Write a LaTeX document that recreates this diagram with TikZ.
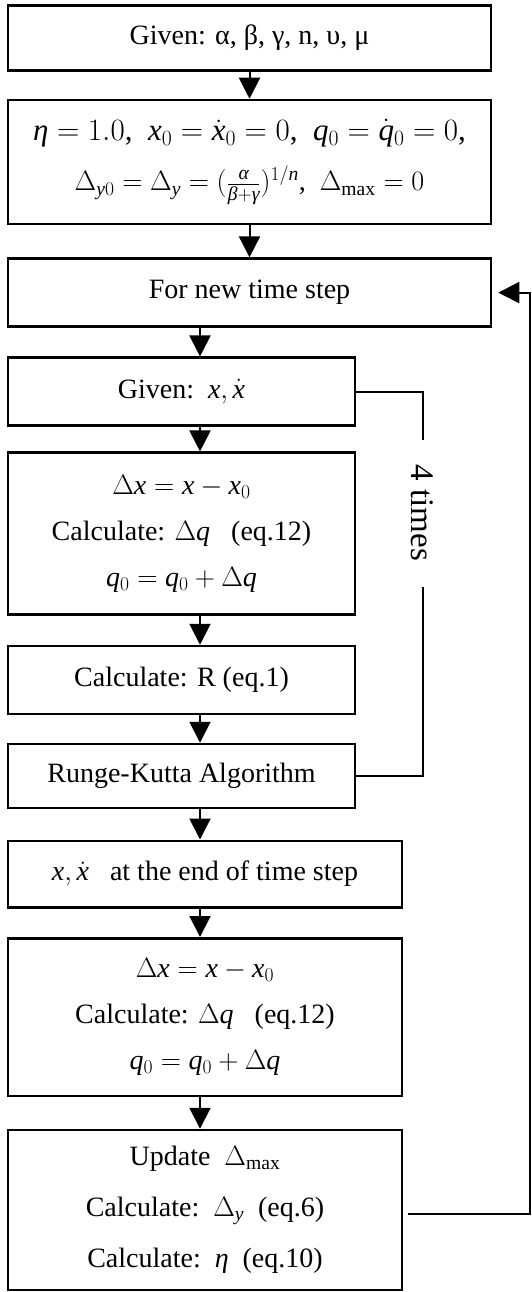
\RequirePackage{fix-cm}
\documentclass[tikz,border=0pt]{standalone}
\usepackage{fontspec}
\setmainfont{Liberation Serif}
\newfontfamily\tmsfam{Liberation Serif}[NFSSFamily=tms]
\DeclareSymbolFont{tletters}{TU}{tms}{m}{it}
\DeclareSymbolFont{troman}{TU}{tms}{m}{n}
\DeclareMathAlphabet{\mathtr}{TU}{tms}{m}{n}
\Umathcode`x="7 \symtletters `x
\Umathcode`q="7 \symtletters `q
\Umathcode`n="7 \symtletters `n
\Umathcode`y="7 \symtletters `y
\Umathcode`0="0 \symtroman `0
\Umathcode`1="0 \symtroman `1
\Umathchardef\eta="0 \symtletters "03B7
\Umathchardef\alpha="0 \symtletters "03B1
\Umathchardef\beta="0 \symtletters "03B2
\Umathchardef\gamma="0 \symtletters "03B3
\Umathchardef\Delta="0 \symtroman "0394
\usetikzlibrary{arrows.meta,calc}
\tikzset{
  box/.style={draw, line width=2.5pt, inner sep=0pt, align=center, font=\fontsize{28}{46}\selectfont},
  arr/.style={line width=2pt, -{Triangle[length=21pt,width=21pt]}},
  link/.style={line width=2pt},
}
\begin{document}
\begin{tikzpicture}[x=1pt,y=-1pt]
\useasboundingbox (0,0) rectangle (532,1292);
\node[box, minimum width=483pt, minimum height=65pt] (b1) at (249.5,38) {Given: α, β, γ, n, υ, μ};
\node[box, minimum width=483pt, minimum height=124pt, font=\fontsize{31}{52}\selectfont] (b2) at (249.5,162)
  {$\eta = 1.0$,\ \ $x_0=\dot x_0=0$,\ \ $q_0=\dot q_0=0$,\\[-2pt]
   {\fontsize{28}{28}\selectfont$\Delta_{y0}=\Delta_y=(\frac{\alpha}{\beta+\gamma})^{1/n}$,\ \ $\Delta_{\mathtr{max}}=0$}};
\node[box, minimum width=483pt, minimum height=68pt] (b3) at (249.5,292.6) {For new time step};
\node[box, minimum width=347pt, minimum height=68pt] (b4) at (181.5,391.7) {Given:\ \ $x,\dot x$};
\node[box, minimum width=347pt, minimum height=162pt] (b5) at (181.5,533.7)
  {$\Delta x = x - x_0$\\ Calculate: $\Delta q$\ \ \ (eq.12)\\ $q_0 = q_0 + \Delta q$};
\node[box, minimum width=347pt, minimum height=68pt] (b6) at (181.5,680) {Calculate: R (eq.1)};
\node[box, minimum width=347pt, minimum height=64pt] (b7) at (181.5,776) {Runge-Kutta Algorithm};
\node[box, minimum width=394pt, minimum height=66.5pt] (b8) at (205,874) {$x,\dot x$\ \ \ at the end of time step};
\node[box, minimum width=394pt, minimum height=157.5pt] (b9) at (205,1017)
  {$\Delta x = x - x_0$\\ Calculate: $\Delta q$\ \ \ (eq.12)\\ $q_0 = q_0 + \Delta q$};
\node[box, minimum width=394pt, minimum height=160pt, font=\fontsize{28}{51}\selectfont] (b10) at (205,1210)
  {Update\ \ $\Delta_{\mathtr{max}}$\\ Calculate:\ \ $\Delta_y$\ \ (eq.6)\\ Calculate:\ \ $\eta$\ \ (eq.10)};
\coordinate (ax) at (200,0);
\coordinate (l1) at (422.5,440);
\coordinate (l2) at (422.5,587);
\coordinate (fb) at (530,0);
\node[font=\fontsize{33}{33}\selectfont, rotate=-90, inner sep=0pt] (t4) at (422.5,513) {4 times};
\draw[arr] (b1.south) -- (b2.north);
\draw[arr] (b2.south) -- (b3.north);
\draw[arr] (b3.south -| ax) -- (b4.north -| ax);
\draw[arr] (b4.south -| ax) -- (b5.north -| ax);
\draw[arr] (b5.south -| ax) -- (b6.north -| ax);
\draw[arr] (b6.south -| ax) -- (b7.north -| ax);
\draw[arr] (b7.south -| ax) -- (b8.north -| ax);
\draw[arr] (b8.south -| ax) -- (b9.north -| ax);
\draw[arr] (b9.south -| ax) -- (b10.north -| ax);
\draw[link] (b4.east) -| (l1);
\draw[link] (l2) |- (b7.east);
\draw[arr] ($(b10.east)+(5,4)$) -| (b3.east -| fb) -- ($(b3.east)+(6,0)$);
\end{tikzpicture}
\end{document}
